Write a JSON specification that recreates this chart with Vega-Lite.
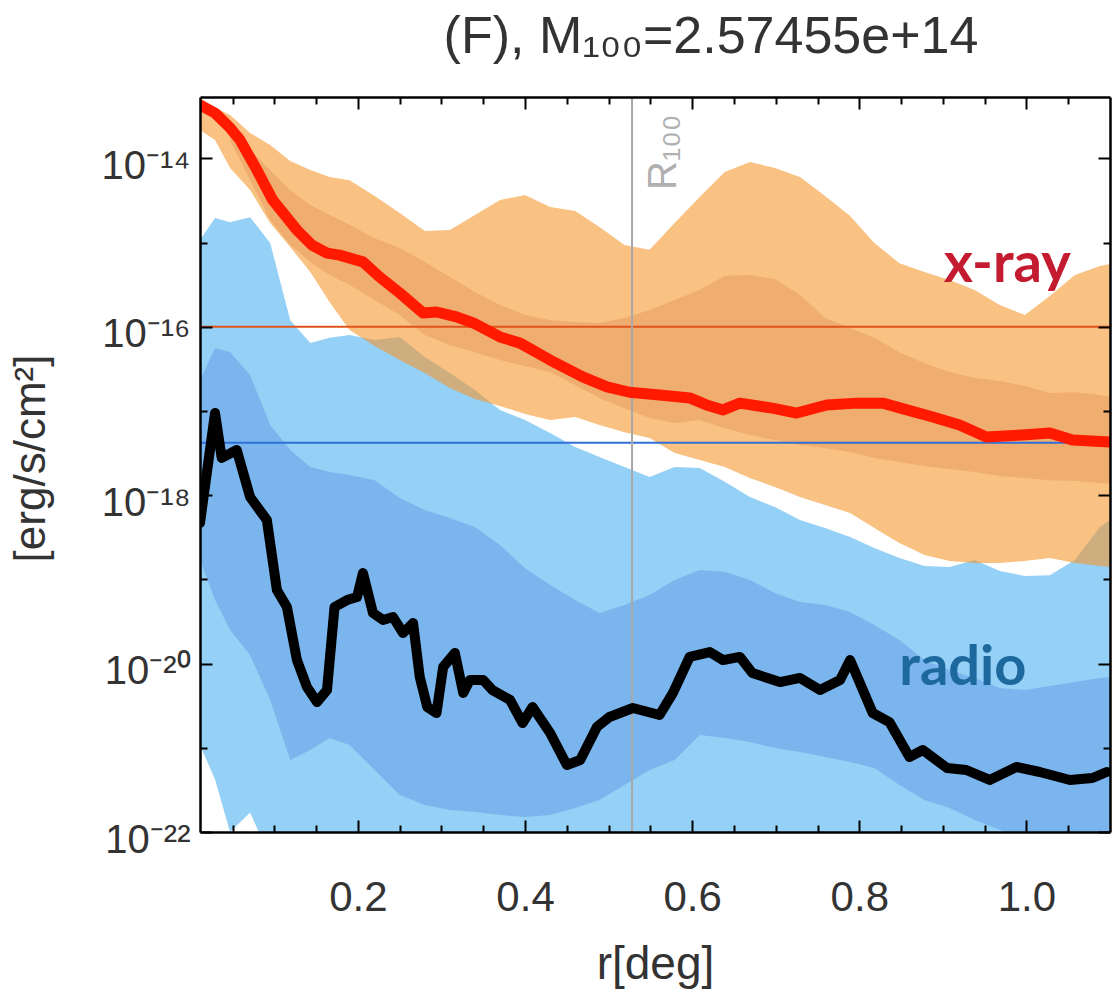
{
  "$schema": "https://vega.github.io/schema/vega-lite/v6.json",
  "width": 910,
  "height": 735,
  "autosize": {"type": "none"},
  "padding": {"left": 200, "top": 97, "right": 3, "bottom": 158},
  "background": "white",
  "config": {"view": {"stroke": null}, "axis": {"grid": false}},
  "title": {"text": "(F), M₁₀₀=2.57455e+14", "font": "Liberation Sans", "fontSize": 52, "fontWeight": "normal", "color": "#333333", "anchor": "middle", "dx": 56, "offset": -9, "baseline": "alphabetic"},
  "datasets": {
    "bands": [
      {"r":0.011,"xh":5.2e-14,"xl":2.17e-14,"xih":null,"xil":null,"rh":1.07e-15,"rl":1.08e-21,"rih":2.33e-17,"ril":1.7e-19},
      {"r":0.029,"xh":4.0e-14,"xl":1.65e-14,"xih":null,"xil":null,"rh":1.96e-15,"rl":4.2e-22,"rih":5.6e-17,"ril":5.69e-20},
      {"r":0.047,"xh":3.27e-14,"xl":7.7e-15,"xih":2.3e-14,"xil":1.65e-14,"rh":1.75e-15,"rl":1.0e-22,"rih":5.0e-17,"ril":2.51e-20},
      {"r":0.071,"xh":2.0e-14,"xl":4.2e-15,"xih":1.26e-14,"xil":5.5e-15,"rh":2.0e-15,"rl":1.7e-22,"rih":2.67e-17,"ril":1.26e-20},
      {"r":0.095,"xh":1.44e-14,"xl":1.71e-15,"xih":7.3e-15,"xil":1.85e-15,"rh":9.9e-16,"rl":5e-23,"rih":6.8e-18,"ril":3.7e-21},
      {"r":0.119,"xh":9.3e-15,"xl":8.85e-16,"xih":4.2e-15,"xil":9.35e-16,"rh":1.2e-16,"rl":5e-23,"rih":3.44e-18,"ril":7.16e-22},
      {"r":0.143,"xh":7.3e-15,"xl":4.48e-16,"xih":2.79e-15,"xil":5.9e-16,"rh":6.4e-17,"rl":5e-23,"rih":2.16e-18,"ril":9.4e-22},
      {"r":0.166,"xh":6.0e-15,"xl":1.97e-16,"xih":2.12e-15,"xil":4.12e-16,"rh":7.4e-17,"rl":5e-23,"rih":1.88e-18,"ril":1.31e-21},
      {"r":0.190,"xh":5.5e-15,"xl":9.16e-17,"xih":1.62e-15,"xil":3.13e-16,"rh":7.98e-17,"rl":5e-23,"rih":1.74e-18,"ril":1.08e-21},
      {"r":0.220,"xh":3.57e-15,"xl":5.9e-17,"xih":1.13e-15,"xil":2.08e-16,"rh":6.97e-17,"rl":5e-23,"rih":1.51e-18,"ril":5.45e-22},
      {"r":0.250,"xh":2.24e-15,"xl":4.03e-17,"xih":8.6e-16,"xil":1.38e-16,"rh":7.57e-17,"rl":5e-23,"rih":9.27e-19,"ril":2.75e-22},
      {"r":0.280,"xh":1.37e-15,"xl":2.82e-17,"xih":5.9e-16,"xil":7.98e-17,"rh":4.38e-17,"rl":5e-23,"rih":6.67e-19,"ril":2.09e-22},
      {"r":0.310,"xh":1.41e-15,"xl":1.87e-17,"xih":3.9e-16,"xil":6.08e-17,"rh":2.82e-17,"rl":5e-23,"rih":5.36e-19,"ril":1.82e-22},
      {"r":0.340,"xh":2.12e-15,"xl":1.39e-17,"xih":2.59e-16,"xil":5.0e-17,"rh":1.77e-17,"rl":5e-23,"rih":4.19e-19,"ril":1.73e-22},
      {"r":0.370,"xh":3.2e-15,"xl":1.15e-17,"xih":1.82e-16,"xil":4.03e-17,"rh":1.03e-17,"rl":5e-23,"rih":2.56e-19,"ril":1.59e-22},
      {"r":0.400,"xh":3.67e-15,"xl":9.2e-18,"xih":1.38e-16,"xil":3.42e-17,"rh":7.8e-18,"rl":5e-23,"rih":1.36e-19,"ril":1.51e-22},
      {"r":0.430,"xh":2.65e-15,"xl":7.8e-18,"xih":1.2e-16,"xil":2.9e-17,"rh":5.48e-18,"rl":5e-23,"rih":8.57e-20,"ril":1.59e-22},
      {"r":0.460,"xh":2.37e-15,"xl":8.5e-18,"xih":1.14e-16,"xil":2.04e-17,"rh":3.73e-18,"rl":5e-23,"rih":5.69e-20,"ril":1.93e-22},
      {"r":0.489,"xh":1.53e-15,"xl":6.8e-18,"xih":1.11e-16,"xil":1.43e-17,"rh":2.84e-18,"rl":5e-23,"rih":3.99e-20,"ril":2.4e-22},
      {"r":0.519,"xh":9.35e-16,"xl":5.6e-18,"xih":1.27e-16,"xil":1.08e-17,"rh":2.16e-18,"rl":5e-23,"rih":4.97e-20,"ril":3.61e-22},
      {"r":0.549,"xh":8.2e-16,"xl":4.78e-18,"xih":1.58e-16,"xil":8.26e-18,"rh":1.64e-18,"rl":5e-23,"rih":6.53e-20,"ril":5.45e-22},
      {"r":0.579,"xh":1.71e-15,"xl":3.17e-18,"xih":2.08e-16,"xil":7.2e-18,"rh":2.16e-18,"rl":5e-23,"rih":9.84e-20,"ril":7.16e-22},
      {"r":0.609,"xh":3.48e-15,"xl":2.62e-18,"xih":2.73e-16,"xil":7.8e-18,"rh":2.1e-18,"rl":5e-23,"rih":1.29e-19,"ril":1.42e-21},
      {"r":0.639,"xh":6.9e-15,"xl":2.16e-18,"xih":4.0e-16,"xil":6.28e-18,"rh":1.44e-18,"rl":5e-23,"rih":1.23e-19,"ril":1.31e-21},
      {"r":0.669,"xh":9.06e-15,"xl":1.6e-18,"xih":4.12e-16,"xil":5.19e-18,"rh":9.5e-19,"rl":5e-23,"rih":9.84e-20,"ril":1.17e-21},
      {"r":0.699,"xh":7.7e-15,"xl":1.25e-18,"xih":3.7e-16,"xil":4.52e-18,"rh":7.24e-19,"rl":5e-23,"rih":6.89e-20,"ril":9.95e-22},
      {"r":0.729,"xh":6.0e-15,"xl":9.5e-19,"xih":2.39e-16,"xil":3.94e-18,"rh":5.07e-19,"rl":5e-23,"rih":5.4e-20,"ril":8.9e-22},
      {"r":0.759,"xh":3.57e-15,"xl":7.65e-19,"xih":1.27e-16,"xil":3.63e-18,"rh":4.07e-19,"rl":5e-23,"rih":4.97e-20,"ril":7.78e-22},
      {"r":0.789,"xh":2.07e-15,"xl":6.14e-19,"xih":9.7e-17,"xil":3.26e-18,"rh":3.18e-19,"rl":5e-23,"rih":4.1e-20,"ril":6.78e-22},
      {"r":0.818,"xh":9.9e-16,"xl":4.07e-19,"xih":7.4e-17,"xil":2.77e-18,"rh":2.36e-19,"rl":5e-23,"rih":2.87e-20,"ril":5.75e-22},
      {"r":0.848,"xh":5.7e-16,"xl":2.7e-19,"xih":5.0e-17,"xil":2.48e-18,"rh":1.8e-19,"rl":5e-23,"rih":1.91e-20,"ril":3.61e-22},
      {"r":0.878,"xh":4.48e-16,"xl":1.95e-19,"xih":3.7e-17,"xil":2.22e-18,"rh":1.44e-19,"rl":5e-23,"rih":1.1e-20,"ril":2.4e-22},
      {"r":0.908,"xh":3.6e-16,"xl":1.65e-19,"xih":2.9e-17,"xil":2.05e-18,"rh":1.4e-19,"rl":5e-23,"rih":8.4e-21,"ril":1.93e-22},
      {"r":0.938,"xh":2.73e-16,"xl":1.57e-19,"xih":2.47e-17,"xil":1.88e-18,"rh":1.7e-19,"rl":5e-23,"rih":6.75e-21,"ril":1.39e-22},
      {"r":0.968,"xh":1.82e-16,"xl":1.57e-19,"xih":2.27e-17,"xil":1.69e-18,"rh":1.26e-19,"rl":5e-23,"rih":5.13e-21,"ril":1.06e-22},
      {"r":0.998,"xh":1.38e-16,"xl":1.65e-19,"xih":1.98e-17,"xil":1.6e-18,"rh":1.1e-19,"rl":5e-23,"rih":4.85e-21,"ril":8e-23},
      {"r":1.028,"xh":2.32e-16,"xl":1.8e-19,"xih":1.64e-17,"xil":1.51e-18,"rh":1.12e-19,"rl":5e-23,"rih":5.42e-21,"ril":8e-23},
      {"r":1.058,"xh":4.12e-16,"xl":1.57e-19,"xih":1.67e-17,"xil":1.48e-18,"rh":1.7e-19,"rl":5e-23,"rih":6.04e-21,"ril":8e-23},
      {"r":1.088,"xh":5.27e-16,"xl":1.44e-19,"xih":1.55e-17,"xil":1.4e-18,"rh":4.19e-19,"rl":5e-23,"rih":6.75e-21,"ril":8e-23},
      {"r":1.100,"xh":5.57e-16,"xl":1.4e-19,"xih":1.47e-17,"xil":1.37e-18,"rh":5.07e-19,"rl":5e-23,"rih":6.93e-21,"ril":8e-23}
    ],
    "xray": [
      {"r":0.011,"flux":4.3e-14},{"r":0.029,"flux":3.46e-14},{"r":0.047,"flux":2.3e-14},{"r":0.059,"flux":1.65e-14},
      {"r":0.079,"flux":7.3e-15},{"r":0.098,"flux":3.2e-15},{"r":0.127,"flux":1.41e-15},{"r":0.145,"flux":9.35e-16},
      {"r":0.163,"flux":7.5e-16},{"r":0.178,"flux":7.1e-16},{"r":0.206,"flux":5.9e-16},{"r":0.226,"flux":3.9e-16},
      {"r":0.25,"flux":2.52e-16},{"r":0.278,"flux":1.46e-16},{"r":0.294,"flux":1.5e-16},{"r":0.318,"flux":1.31e-16},
      {"r":0.338,"flux":1.11e-16},{"r":0.37,"flux":7.57e-17},{"r":0.394,"flux":6.4e-17},{"r":0.43,"flux":4.03e-17},
      {"r":0.469,"flux":2.54e-17},{"r":0.498,"flux":1.93e-17},{"r":0.525,"flux":1.67e-17},{"r":0.561,"flux":1.55e-17},
      {"r":0.597,"flux":1.43e-17},{"r":0.617,"flux":1.18e-17},{"r":0.637,"flux":1.03e-17},{"r":0.657,"flux":1.24e-17},
      {"r":0.696,"flux":1.08e-17},{"r":0.725,"flux":9.46e-18},{"r":0.761,"flux":1.18e-17},{"r":0.797,"flux":1.24e-17},
      {"r":0.828,"flux":1.24e-17},{"r":0.857,"flux":1.03e-17},{"r":0.888,"flux":8.5e-18},{"r":0.92,"flux":6.8e-18},
      {"r":0.952,"flux":4.9e-18},{"r":0.995,"flux":5.19e-18},{"r":1.028,"flux":5.48e-18},{"r":1.055,"flux":4.52e-18},
      {"r":1.1,"flux":4.29e-18}
    ],
    "radio": [
      {"r":0.011,"flux":4.68e-19},{"r":0.029,"flux":9.46e-18},{"r":0.037,"flux":2.77e-18},{"r":0.055,"flux":3.44e-18},
      {"r":0.071,"flux":9.5e-19},{"r":0.091,"flux":5.07e-19},{"r":0.103,"flux":7.48e-20},{"r":0.115,"flux":4.7e-20},
      {"r":0.127,"flux":1.1e-20},{"r":0.139,"flux":5.27e-21},{"r":0.151,"flux":3.5e-21},{"r":0.163,"flux":4.85e-21},
      {"r":0.172,"flux":4.7e-20},{"r":0.187,"flux":5.69e-20},{"r":0.199,"flux":6.18e-20},{"r":0.206,"flux":1.19e-19},
      {"r":0.218,"flux":3.99e-20},{"r":0.23,"flux":3.3e-20},{"r":0.242,"flux":3.57e-20},{"r":0.254,"flux":2.31e-20},
      {"r":0.266,"flux":3.03e-20},{"r":0.274,"flux":6.93e-21},{"r":0.283,"flux":3.05e-21},{"r":0.294,"flux":2.59e-21},
      {"r":0.302,"flux":9.1e-21},{"r":0.316,"flux":1.34e-20},{"r":0.326,"flux":4.48e-21},{"r":0.334,"flux":6.38e-21},
      {"r":0.35,"flux":6.38e-21},{"r":0.361,"flux":4.85e-21},{"r":0.382,"flux":3.7e-21},{"r":0.397,"flux":1.97e-21},
      {"r":0.409,"flux":3.05e-21},{"r":0.43,"flux":1.5e-21},{"r":0.45,"flux":6.25e-22},{"r":0.466,"flux":7.16e-22},
      {"r":0.486,"flux":1.77e-21},{"r":0.501,"flux":2.32e-21},{"r":0.529,"flux":2.97e-21},{"r":0.561,"flux":2.45e-21},
      {"r":0.577,"flux":4.48e-21},{"r":0.597,"flux":1.2e-20},{"r":0.621,"flux":1.37e-20},{"r":0.637,"flux":1.1e-20},
      {"r":0.657,"flux":1.2e-20},{"r":0.672,"flux":7.73e-21},{"r":0.705,"flux":6.04e-21},{"r":0.729,"flux":6.75e-21},
      {"r":0.753,"flux":4.85e-21},{"r":0.777,"flux":6.38e-21},{"r":0.789,"flux":1.1e-20},{"r":0.816,"flux":2.59e-21},
      {"r":0.836,"flux":2.02e-21},{"r":0.86,"flux":7.78e-22},{"r":0.876,"flux":9.4e-22},{"r":0.905,"flux":5.75e-22},
      {"r":0.928,"flux":5.45e-22},{"r":0.956,"flux":4.15e-22},{"r":0.988,"flux":5.92e-22},{"r":1.016,"flux":5.16e-22},
      {"r":1.052,"flux":4.15e-22},{"r":1.079,"flux":4.38e-22},{"r":1.096,"flux":5.16e-22}
    ]
  },
  "layer": [
    {
      "data": {"name": "bands"},
      "mark": {"type": "area", "color": "#2ba1ee", "fillOpacity": 0.5, "clip": true},
      "encoding": {
        "x": {"field": "r", "type": "quantitative", "scale": {"type": "linear", "domain": [0.011, 1.1], "nice": false, "zero": false},
          "axis": {"orient": "bottom", "values": [0.2, 0.4, 0.6, 0.8, 1.0], "format": ".1f", "ticks": false, "domain": false, "labelFont": "Liberation Sans", "labelFontSize": 42, "labelColor": "#333333", "labelPadding": 45, "labelFlush": false, "labelOverlap": false, "title": "r[deg]", "titleFont": "Liberation Sans", "titleFontSize": 46, "titleFontWeight": "normal", "titleColor": "#333333", "titleY": 146, "titleBaseline": "alphabetic"}},
        "y": {"field": "rh", "type": "quantitative", "scale": {"type": "log", "domain": [1e-22, 5.36e-14], "nice": false},
          "axis": {"orient": "left", "values": [1e-22, 1e-20, 1e-18, 1e-16, 1e-14], "ticks": false, "domain": false, "labelFont": "Liberation Sans", "labelFontSize": 40, "labelColor": "#333333", "labelPadding": 10, "labelOffset": 8, "labelOverlap": false, "labelFlush": false,
            "labelExpr": "round(log(datum.value)/LN10) == -14 ? '10⁻¹⁴' : round(log(datum.value)/LN10) == -16 ? '10⁻¹⁶' : round(log(datum.value)/LN10) == -18 ? '10⁻¹⁸' : round(log(datum.value)/LN10) == -20 ? '10⁻²⁰' : '10⁻²²'",
            "title": "[erg/s/cm²]", "titleFont": "Liberation Sans", "titleFontSize": 44, "titleFontWeight": "normal", "titleColor": "#333333", "titleX": -147, "titleY": 361, "titleBaseline": "bottom", "titleAlign": "center", "titleAngle": 270}},
        "y2": {"field": "rl"}
      }
    },
    {
      "data": {"name": "bands"},
      "mark": {"type": "area", "color": "#1a5ccc", "fillOpacity": 0.22, "clip": true},
      "encoding": {
        "x": {"field": "r", "type": "quantitative", "scale": {"type": "linear", "domain": [0.011, 1.1], "nice": false, "zero": false},
          "axis": {"orient": "bottom", "values": [0.2, 0.4, 0.6, 0.8, 1.0], "labels": false, "ticks": true, "tickSize": -12, "tickWidth": 2, "tickColor": "black", "domain": true, "domainColor": "black", "domainWidth": 2.5, "title": null, "zindex": 1}},
        "y": {"field": "rih", "type": "quantitative", "scale": {"type": "log", "domain": [1e-22, 5.36e-14], "nice": false},
          "axis": {"orient": "left", "values": [1e-22, 1e-20, 1e-18, 1e-16, 1e-14], "labels": false, "ticks": true, "tickSize": -12, "tickWidth": 2, "tickColor": "black", "domain": true, "domainColor": "black", "domainWidth": 2.5, "title": null, "zindex": 1}},
        "y2": {"field": "ril"}
      }
    },
    {
      "data": {"name": "bands"},
      "mark": {"type": "area", "color": "#f5982f", "fillOpacity": 0.6, "clip": true},
      "encoding": {
        "x": {"field": "r", "type": "quantitative", "scale": {"type": "linear", "domain": [0.011, 1.1], "nice": false, "zero": false},
          "axis": {"orient": "bottom", "values": [0.05, 0.1, 0.15, 0.25, 0.3, 0.35, 0.45, 0.5, 0.55, 0.65, 0.7, 0.75, 0.85, 0.9, 0.95, 1.05], "labels": false, "ticks": true, "tickSize": -7, "tickWidth": 2, "tickColor": "black", "domain": false, "title": null, "zindex": 1}},
        "y": {"field": "xh", "type": "quantitative", "scale": {"type": "log", "domain": [1e-22, 5.36e-14], "nice": false},
          "axis": {"orient": "left", "values": [1e-21, 1e-19, 1e-17, 1e-15], "labels": false, "ticks": true, "tickSize": -7, "tickWidth": 2, "tickColor": "black", "domain": false, "title": null, "zindex": 1}},
        "y2": {"field": "xl"}
      }
    },
    {
      "data": {"name": "bands"},
      "mark": {"type": "area", "color": "#b83a10", "fillOpacity": 0.15, "clip": true},
      "encoding": {
        "x": {"field": "r", "type": "quantitative", "scale": {"type": "linear", "domain": [0.011, 1.1], "nice": false, "zero": false},
          "axis": {"orient": "top", "values": [0.2, 0.4, 0.6, 0.8, 1.0], "labels": false, "ticks": true, "tickSize": -12, "tickWidth": 2, "tickColor": "black", "domain": true, "domainColor": "black", "domainWidth": 2.5, "title": null, "zindex": 1}},
        "y": {"field": "xih", "type": "quantitative", "scale": {"type": "log", "domain": [1e-22, 5.36e-14], "nice": false},
          "axis": {"orient": "right", "values": [1e-22, 1e-20, 1e-18, 1e-16, 1e-14], "labels": false, "ticks": true, "tickSize": -12, "tickWidth": 2, "tickColor": "black", "domain": true, "domainColor": "black", "domainWidth": 2.5, "title": null, "zindex": 1}},
        "y2": {"field": "xil"}
      }
    },
    {
      "data": {"values": [{"flux": 1e-16}]},
      "mark": {"type": "rule", "color": "#e0541c", "strokeWidth": 2},
      "encoding": {
        "y": {"field": "flux", "type": "quantitative", "scale": {"type": "log", "domain": [1e-22, 5.36e-14], "nice": false},
          "axis": {"orient": "right", "values": [1e-21, 1e-19, 1e-17, 1e-15], "labels": false, "ticks": true, "tickSize": -7, "tickWidth": 2, "tickColor": "black", "domain": false, "title": null, "zindex": 1}}
      }
    },
    {
      "data": {"values": [{"flux": 4.2e-18}]},
      "mark": {"type": "rule", "color": "#2f6fd8", "strokeWidth": 2},
      "encoding": {
        "y": {"field": "flux", "type": "quantitative", "scale": {"type": "log", "domain": [1e-22, 5.36e-14], "nice": false}, "axis": null}
      }
    },
    {
      "data": {"values": [{"r": 0.528}]},
      "mark": {"type": "rule", "color": "#a8a8a8", "strokeWidth": 2},
      "encoding": {
        "x": {"field": "r", "type": "quantitative", "scale": {"type": "linear", "domain": [0.011, 1.1], "nice": false, "zero": false},
          "axis": {"orient": "top", "values": [0.05, 0.1, 0.15, 0.25, 0.3, 0.35, 0.45, 0.5, 0.55, 0.65, 0.7, 0.75, 0.85, 0.9, 0.95, 1.05], "labels": false, "ticks": true, "tickSize": -7, "tickWidth": 2, "tickColor": "black", "domain": false, "title": null, "zindex": 1}}
      }
    },
    {
      "data": {"name": "radio"},
      "mark": {"type": "line", "color": "black", "strokeWidth": 10, "strokeJoin": "round", "strokeCap": "round", "clip": true},
      "encoding": {
        "x": {"field": "r", "type": "quantitative", "scale": {"type": "linear", "domain": [0.011, 1.1], "nice": false, "zero": false}, "axis": null},
        "y": {"field": "flux", "type": "quantitative", "scale": {"type": "log", "domain": [1e-22, 5.36e-14], "nice": false}, "axis": null}
      }
    },
    {
      "data": {"name": "xray"},
      "mark": {"type": "line", "color": "#ff1a00", "strokeWidth": 11, "strokeJoin": "round", "strokeCap": "round", "clip": true},
      "encoding": {
        "x": {"field": "r", "type": "quantitative", "scale": {"type": "linear", "domain": [0.011, 1.1], "nice": false, "zero": false}, "axis": null},
        "y": {"field": "flux", "type": "quantitative", "scale": {"type": "log", "domain": [1e-22, 5.36e-14], "nice": false}, "axis": null}
      }
    },
    {
      "data": {"values": [{"r": 0.977, "flux": 3.4e-16, "label": "x-ray"}]},
      "mark": {"type": "text", "font": "Lato", "fontSize": 56, "fontWeight": "bold", "color": "#c41b30", "align": "center", "baseline": "alphabetic"},
      "encoding": {
        "x": {"field": "r", "type": "quantitative", "scale": {"type": "linear", "domain": [0.011, 1.1], "nice": false, "zero": false}, "axis": null},
        "y": {"field": "flux", "type": "quantitative", "scale": {"type": "log", "domain": [1e-22, 5.36e-14], "nice": false}, "axis": null},
        "text": {"field": "label"}
      }
    },
    {
      "data": {"values": [{"r": 0.924, "flux": 5.6e-21, "label": "radio"}]},
      "mark": {"type": "text", "font": "Lato", "fontSize": 56, "fontWeight": "bold", "color": "#1d689d", "align": "center", "baseline": "alphabetic"},
      "encoding": {
        "x": {"field": "r", "type": "quantitative", "scale": {"type": "linear", "domain": [0.011, 1.1], "nice": false, "zero": false}, "axis": null},
        "y": {"field": "flux", "type": "quantitative", "scale": {"type": "log", "domain": [1e-22, 5.36e-14], "nice": false}, "axis": null},
        "text": {"field": "label"}
      }
    },
    {
      "data": {"values": [{"r": 0.528, "flux": 4.2e-15, "label": "R₁₀₀"}]},
      "mark": {"type": "text", "font": "Liberation Sans", "fontSize": 40, "color": "#b0b0b0", "angle": 270, "align": "left", "baseline": "top", "dx": 0, "dy": 12},
      "encoding": {
        "x": {"field": "r", "type": "quantitative", "scale": {"type": "linear", "domain": [0.011, 1.1], "nice": false, "zero": false}, "axis": null},
        "y": {"field": "flux", "type": "quantitative", "scale": {"type": "log", "domain": [1e-22, 5.36e-14], "nice": false}, "axis": null},
        "text": {"field": "label"}
      }
    }
  ],
  "resolve": {"axis": {"x": "independent", "y": "independent"}}
}
